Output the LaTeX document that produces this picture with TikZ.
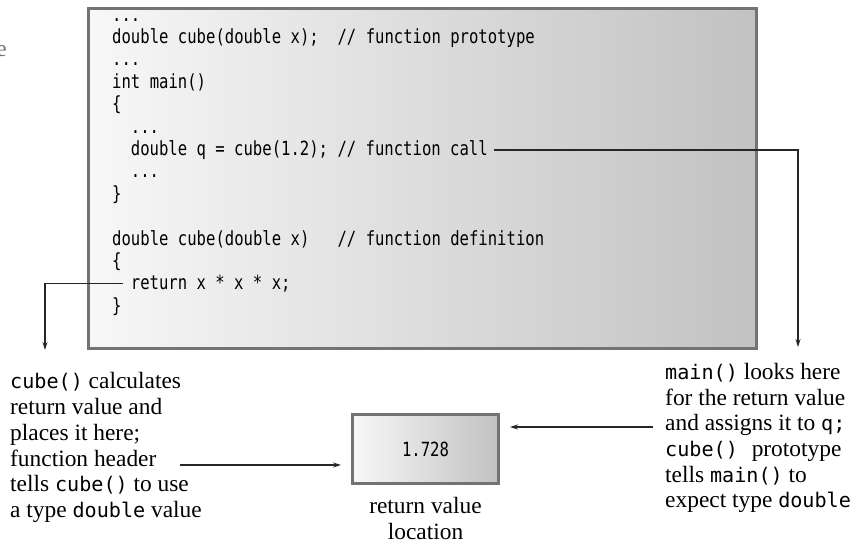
\documentclass[tikz,border=0pt]{standalone}
\usepackage{fontspec}
\setmainfont{Liberation Serif}
\setmonofont{DejaVu Sans Mono}[Scale=0.86]
\newfontfamily\codefont[FakeStretch=0.8]{DejaVu Sans Mono}
\usetikzlibrary{
    positioning,
    arrows.meta
}
\tikzset{
    >={Stealth[length=8pt,width=5pt]},
    codeline/.style={
        anchor=base west,
        inner sep=0pt,
        text=black,
        font=\codefont\fontsize{19.5}{22.4}\selectfont
    },
    note/.style={
        align=left,
        inner sep=0pt,
        font=\fontsize{23.4}{25.7}\selectfont
    },
    panel/.style={
        draw=black!55,
        line width=3pt,
        left color=black!3,
        right color=black!24,
        inner sep=0pt
    },
    link/.style={
        ->,
        draw=black!85,
        line width=1.1pt
    }
}

\begin{document}
\begin{tikzpicture}[
    x=1pt,
    y=-1pt
]
    \useasboundingbox (0,0) rectangle (858,544);

    % Fragmento del borde
    \node[note, text=black!55] (stray) at (1.5,51) {e};

    % Cuadro de codigo
    \node[panel, anchor=north west, minimum width=668pt, minimum height=340pt]
        (codebox) at (87,7) {};

    \node[codeline] (dotsA)    at (112,21)    {...};
    \node[codeline] (proto)    at (112,43.4)  {double cube(double x);~~//~function prototype};
    \node[codeline] (dotsB)    at (112,65.8)  {...};
    \node[codeline] (mainhead) at (112,88.2)  {int main()};
    \node[codeline] (openA)    at (112,110.6) {\{};
    \node[codeline] (dotsC)    at (130.7,133) {...};
    \node[codeline] (call)     at (130.7,155.4) {double q = cube(1.2); // function call};
    \node[codeline] (dotsD)    at (130.7,177.8) {...};
    \node[codeline] (closeA)   at (112,200.2) {\}};
    \node[codeline] (defhead)  at (112,245)   {double cube(double x)~~~//~function definition};
    \node[codeline] (openB)    at (112,267.4) {\{};
    \node[codeline] (ret)      at (130.7,289.8) {return x * x * x;};
    \node[codeline] (closeB)   at (112,312.2) {\}};

    % Valor de retorno
    \node[panel, anchor=north west, minimum width=146pt, minimum height=69pt,
          font=\codefont\fontsize{19.5}{22.4}\selectfont]
        (valbox) at (351,413) {1.728};
    \node[note, align=center, below=12pt of valbox] (vallabel)
        {return value\\location};

    % Notas
    \node[note, anchor=north west] (cubenote) at (10,372.5)
        {\texttt{cube()} calculates\\
         return value and\\
         places it here;\\
         function header\\
         tells \texttt{cube()} to use\\
         a type \texttt{double} value};
    \node[note, anchor=north west] (mainnote) at (665,363)
        {\texttt{main()} looks here\\
         for the return value\\
         and assigns it to \texttt{q;}\\
         \texttt{cube()}\hspace{8pt} prototype\\
         tells \texttt{main()} to\\
         expect type \texttt{double}};

    % Extremos libres
    \coordinate (callend)   at (798,347);
    \coordinate (retend)    at (45,350);
    \coordinate (headerend) at (180,465);
    \coordinate (lookstart) at (653,427);

    % Conectores
    \draw[link] ([xshift=6pt]call.east) -| (callend);
    \draw[link] ([xshift=-8pt]ret.west) -| (retend);
    \draw[link, shorten >=10pt] (headerend) -- (headerend -| valbox.west);
    \draw[link, shorten >=10pt] (lookstart) -- (lookstart -| valbox.east);

\end{tikzpicture}
\end{document}
